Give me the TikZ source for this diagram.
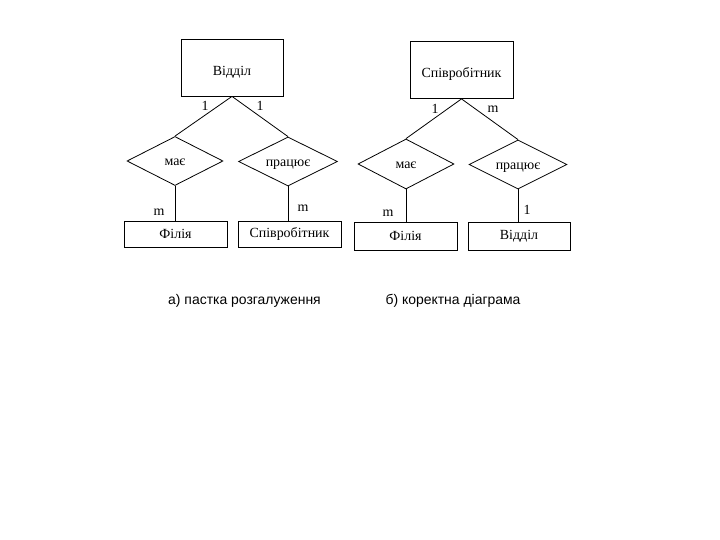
\documentclass[tikz,border=0pt]{standalone}
\usepackage{fontspec}
\setmainfont{Liberation Serif}
\newfontfamily\capfont{Liberation Sans}
\usetikzlibrary{shapes.geometric}
\begin{document}
\begin{tikzpicture}[x=1bp,y=-1bp,
  every node/.style={font=\fontsize{14}{16}\selectfont},
  entity/.style={draw, line width=0.8bp, rectangle, inner sep=0pt, minimum width=103bp, minimum height=26bp},
  bigentity/.style={entity, minimum height=57bp, text height=16bp, text depth=0pt},
  rel/.style={draw, line width=0.8bp, diamond, aspect=2, inner sep=0pt, minimum width=97bp, minimum height=49bp, text height=10bp, text depth=0pt},
  conn/.style={line width=0.8bp},
  card/.style={inner sep=0pt},
  caption/.style={inner sep=0pt, font=\capfont\fontsize{14}{16}\selectfont}]
\useasboundingbox[fill=white] (0,0) rectangle (720,540);
% left diagram
\node[bigentity, minimum width=102bp] (vb) at (232,67.5) {Відділ};
\node[rel, minimum width=96bp] (d1) at (175,161) {має};
\node[rel, minimum width=99bp] (d2) at (288,161.5) {працює};
\node[entity] (f1) at (175.5,234) {Філія};
\node[entity] (s1) at (289.5,234) {Співробітник};
\draw[conn] (vb.south) -- (d1.north);
\draw[conn] (vb.south) -- (d2.north);
\draw[conn] (d1.south) -- (d1.south |- f1.north);
\draw[conn] (d2.south) -- (d2.south |- s1.north);
\node[card] (l1) at (205,106) {1};
\node[card] (l2) at (260,106) {1};
\node[card] (l3) at (159,212) {m};
\node[card] (l4) at (303,208) {m};
% right diagram
\node[bigentity] (sb) at (461.5,70) {Співробітник};
\node[rel, minimum width=96bp, minimum height=50bp] (d3) at (406,164) {має};
\node[rel, minimum width=98bp] (d4) at (518,164.5) {працює};
\node[entity, minimum height=28bp] (f2) at (405.5,236) {Філія};
\node[entity, minimum width=102bp, minimum height=28bp] (v2) at (519,236) {Відділ};
\draw[conn] (sb.south) -- (d3.north);
\draw[conn] (sb.south) -- (d4.north);
\draw[conn] (d3.south) -- (d3.south |- f2.north);
\draw[conn] (d4.south) -- (d4.south |- v2.north);
\node[card] (r1) at (435,109) {1};
\node[card] (r2) at (493,109) {m};
\node[card] (r3) at (388,213) {m};
\node[card] (r4) at (527,210) {1};
% captions
\node[caption] (ca) at (244.5,300.5) {а) пастка розгалуження};
\node[caption] (cb) at (453,300.5) {б) коректна діаграма};
\end{tikzpicture}
\end{document}
